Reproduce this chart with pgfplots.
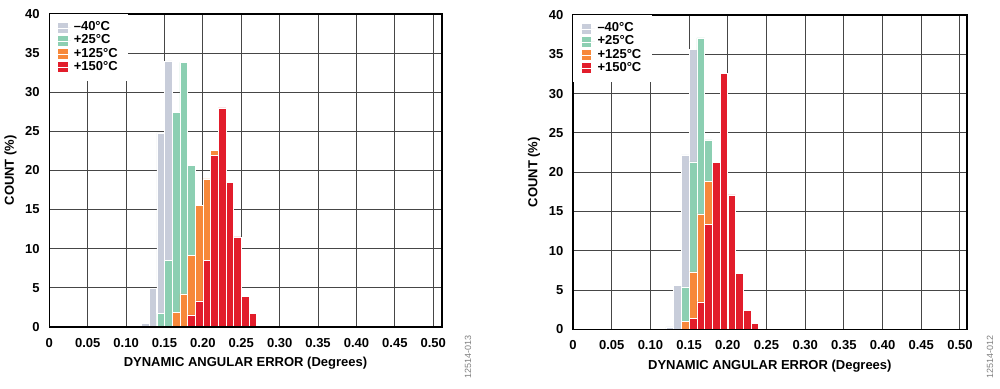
\documentclass[border=0pt]{standalone}
\usepackage{fontspec}
\setmainfont{Liberation Sans}
\usepackage{pgfplots}
\pgfplotsset{compat=1.18}
\definecolor{cgrey}{RGB}{200,205,218}
\definecolor{cgreen}{RGB}{140,207,178}
\definecolor{corange}{RGB}{247,136,58}
\definecolor{cred}{RGB}{226,29,43}
\definecolor{gridc}{RGB}{70,70,70}
\pgfplotsset{
  barsty/.style={ybar, bar width=0.0098, bar shift=0pt, draw=white, line width=0.25pt,
    legend image code/.code={\fill[##1, draw=none] (0pt,-2.4pt) rectangle (4.8pt,2.4pt); \path (0pt,0pt) -- (6.6pt,0pt);}},
  hist/.style={
    scale only axis, anchor=south west,
    xmin=0, ymin=0, ymax=40,
    xtick={0,0.05,0.1,0.15,0.2,0.25,0.3,0.35,0.4,0.45,0.5},
    xticklabels={0,0.05,0.10,0.15,0.20,0.25,0.30,0.35,0.40,0.45,0.50},
    ytick={0,5,10,15,20,25,30,35,40},
    grid=major, major grid style={draw=gridc, line width=0.5pt},
    axis line style={black, line width=0.8pt},
    major tick length=0pt,
    /pgf/number format/assume math mode=true,
    tick label style={font=\fontsize{6.5}{7}\selectfont\bfseries},
    xticklabel style={yshift=-2.2pt},
    yticklabel style={xshift=-1.3pt},
    every axis x label/.style={at={(axis description cs:0.5,-0.116)}, anchor=center,
      font=\fontsize{6.5}{7}\selectfont\bfseries},
    every axis y label/.style={at={(axis description cs:-0.099,0.5)}, rotate=90, anchor=center,
      font=\fontsize{6.5}{7}\selectfont\bfseries},
    xlabel={DYNAMIC ANGULAR ERROR (Degrees)},
    ylabel={COUNT (\%)},
    legend style={at={(axis description cs:0,1)}, anchor=north west, draw=none, fill=white,
      font=\fontsize{6.5}{7}\selectfont\bfseries, inner xsep=4pt, inner ysep=2.5pt,
      row sep=-1.9pt, nodes={inner sep=1.2pt}},
    legend cell align=left,
    after end axis/.code={\draw[black, line width=0.8pt] (rel axis cs:0,0) -- (rel axis cs:1,0);},
  }
}
\begin{document}
\begin{tikzpicture}
\useasboundingbox (0,0) rectangle (500pt,194pt);
\begin{axis}[hist, at={(24.65pt,30.65pt)}, width=196.2pt, height=156.35pt, xmax=0.511]
\addplot[barsty, fill=cgrey] coordinates {(0.125,0.4) (0.135,4.9) (0.145,24.8) (0.155,34.0)};
\addplot[barsty, fill=cgreen] coordinates {(0.145,1.7) (0.155,8.5) (0.165,27.4) (0.175,33.8) (0.185,20.6)};
\addplot[barsty, fill=corange] coordinates {(0.165,1.8) (0.175,4.2) (0.185,9.1) (0.195,15.5) (0.205,18.9) (0.215,22.6)};
\addplot[barsty, fill=cred] coordinates {(0.185,1.5) (0.195,3.3) (0.205,8.5) (0.215,21.9) (0.225,28.0) (0.235,18.5) (0.245,11.5) (0.255,3.9) (0.265,1.7) (0.275,0.2)};
\legend{–40°C,+25°C,+125°C,+150°C}
\end{axis}
\begin{axis}[hist, at={(286.5pt,29.35pt)}, width=196.85pt, height=157.15pt, xmax=0.5087]
\addplot[barsty, fill=cgrey] coordinates {(0.125,0.3) (0.135,5.6) (0.145,22.2) (0.155,35.6)};
\addplot[barsty, fill=cgreen] coordinates {(0.145,5.4) (0.155,21.3) (0.165,37.1) (0.175,24.1)};
\addplot[barsty, fill=corange] coordinates {(0.145,1.0) (0.155,7.3) (0.165,14.7) (0.175,18.8)};
\addplot[barsty, fill=cred] coordinates {(0.155,1.4) (0.165,3.5) (0.175,13.4) (0.185,21.2) (0.195,32.6) (0.205,17.1) (0.215,7.1) (0.225,2.4) (0.235,0.8)};
\legend{–40°C,+25°C,+125°C,+150°C}
\end{axis}
\node[rotate=90, font=\fontsize{4.5}{5}\selectfont, text=gray] at (234pt,15.5pt) {12514-013};
\node[rotate=90, font=\fontsize{4.5}{5}\selectfont, text=gray] at (495pt,15.3pt) {12514-012};
\end{tikzpicture}
\end{document}
